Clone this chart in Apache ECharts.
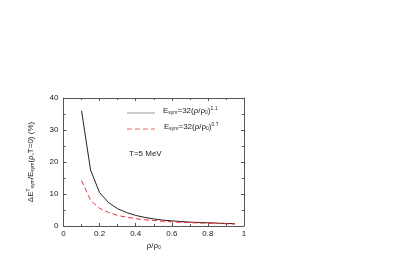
<!DOCTYPE html>
<html><head><meta charset="utf-8">
<script src="https://cdn.jsdelivr.net/npm/echarts@6/dist/echarts.min.js"></script>
<style>html,body{margin:0;padding:0;background:#fff}#c{width:414px;height:273px}</style>
</head><body><div id="c"></div>
<script>
const xVals = [0.1, 0.15, 0.2, 0.25, 0.3, 0.35, 0.4, 0.45, 0.5, 0.55, 0.6, 0.65, 0.7, 0.75, 0.8, 0.85, 0.9, 0.95];
const solid11 = [36, 17.5, 10.4, 7.3, 5.4, 4.2, 3.3, 2.7, 2.2, 1.85, 1.6, 1.4, 1.2, 1.1, 1.0, 0.9, 0.8, 0.7];
const dashed07 = [14.2, 8.0, 5.5, 4.2, 3.3, 2.75, 2.3, 1.95, 1.7, 1.5, 1.3, 1.15, 1.05, 0.95, 0.85, 0.78, 0.7, 0.62];
const seriesLabels = ['{n|E}{sub|sym}{n|=32(ρ/ρ}{sub|0}{n|)}{sup|1.1}', '{n|E}{sub|sym}{n|=32(ρ/ρ}{sub|0}{n|)}{sup|0.7}'];
const xTicks = [0, 0.2, 0.4, 0.6, 0.8, 1];
const yTicks = [0, 10, 20, 30, 40];

const chart = echarts.init(document.getElementById('c'));
const font = 'Liberation Sans, Arial, sans-serif';
const axisCol = '#555';
const pair = a => a.map((v, i) => [xVals[i], v]);
const rich = {
  sub: {fontSize: 5, verticalAlign: 'bottom', padding: [4, 0, 0, 0], fontFamily: font, fill: '#222', color: '#222'},
  sup: {fontSize: 5, verticalAlign: 'top', padding: [0, 0, 4, 0], fontFamily: font, fill: '#222', color: '#222'},
  n: {fontSize: 8, fontFamily: font, fill: '#222', color: '#222'}
};
const baseX = {
  type: 'value', min: 0, max: 1, interval: 0.2,
  axisLine: {show: true, onZero: false, lineStyle: {color: axisCol, width: 1}},
  axisTick: {show: true, inside: true, length: 3, lineStyle: {color: axisCol}},
  minorTick: {show: true, splitNumber: 2, length: 2, lineStyle: {color: axisCol}},
  splitLine: {show: false}
};
const baseY = {
  type: 'value', min: 0, max: 40, interval: 10,
  axisLine: {show: true, onZero: false, lineStyle: {color: axisCol, width: 1}},
  axisTick: {show: true, inside: true, length: 3, lineStyle: {color: axisCol}},
  minorTick: {show: true, splitNumber: 2, length: 2, lineStyle: {color: axisCol}},
  splitLine: {show: false}
};
chart.setOption({
  animation: false,
  backgroundColor: '#fff',
  grid: {left: 63.5, right: 170, top: 98, bottom: 47},
  xAxis: [
    Object.assign({}, baseX, {
      position: 'bottom',
      axisLabel: {fontSize: 8, color: '#222', fontFamily: font, margin: 4,
        formatter: v => (v === 0 || v === 1 ? String(v) : v.toFixed(1))},
      name: '{n|ρ/ρ}{sub|0}', nameLocation: 'middle', nameGap: 15,
      nameTextStyle: {rich: rich}
    }),
    Object.assign({}, baseX, {position: 'top', axisLabel: {show: false}})
  ],
  yAxis: [
    Object.assign({}, baseY, {
      position: 'left',
      axisLabel: {fontSize: 8, color: '#222', fontFamily: font, margin: 5},
      name: '{n|ΔE}{sup|T}{sub|sym}{n|/E}{sub|sym}{n|(ρ,T=0) (%)}', nameLocation: 'middle', nameGap: 28,
      nameRotate: 90,
      nameTextStyle: {rich: rich}
    }),
    Object.assign({}, baseY, {position: 'right', axisLabel: {show: false}})
  ],
  graphic: [
    {type: 'line', shape: {x1: 127, y1: 113, x2: 155, y2: 113}, style: {stroke: '#999', lineWidth: 1}},
    {type: 'text', left: 163, top: 106, style: {text: seriesLabels[0], rich: rich}},
    {type: 'line', shape: {x1: 127, y1: 129, x2: 155, y2: 129}, style: {stroke: '#f06060', lineWidth: 1, lineDash: [5, 3]}},
    {type: 'text', left: 164, top: 122, style: {text: seriesLabels[1], rich: rich}},
    {type: 'text', left: 129, top: 150, style: {text: 'T=5 MeV', font: '8px ' + font, fill: '#222'}}
  ],
  series: [
    {name: 'a', type: 'line', data: pair(solid11), symbol: 'none', smooth: false,
      lineStyle: {color: '#222', width: 1, type: 'solid'}},
    {name: 'b', type: 'line', data: pair(dashed07), symbol: 'none', smooth: false,
      lineStyle: {color: '#f03030', width: 1, type: [5, 3]}}
  ]
});
</script></body></html>
